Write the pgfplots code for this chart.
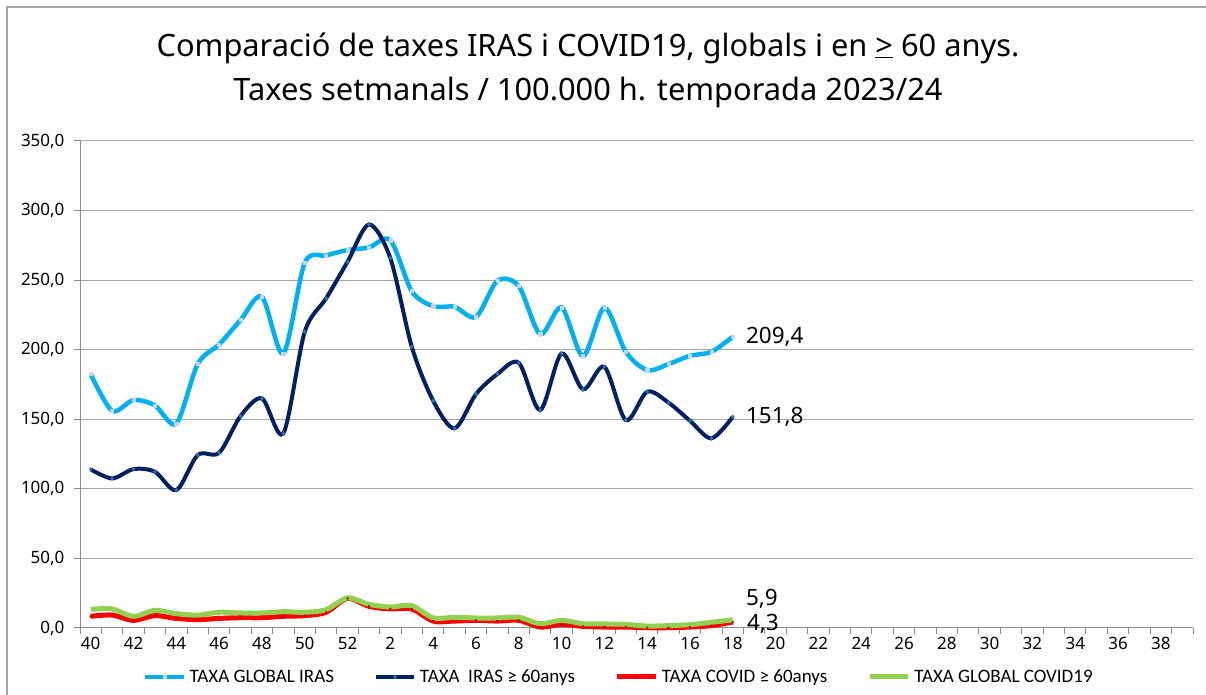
\documentclass[border=0pt]{standalone}
\usepackage{pgfplots}
\pgfplotsset{compat=1.18}
\usepackage{fontspec}
\setmainfont{Noto Sans}
\newfontfamily\calfont{Carlito}
\definecolor{lblue}{HTML}{00B0F0}
\definecolor{navy}{HTML}{002060}
\definecolor{cred}{HTML}{FF0000}
\definecolor{cgreen}{HTML}{92D050}
\definecolor{lmark}{HTML}{C5D5EE}
\definecolor{nmark}{HTML}{2E75B6}
\definecolor{gridc}{HTML}{A6A6A6}
\definecolor{axc}{HTML}{8C8C8C}
\begin{document}
\begin{tikzpicture}
\draw[color=gridc, line width=1.6pt] (7pt,0pt) -- (7pt,688pt) -- (1206pt,688pt);
\node[font=\fontsize{30.8}{36}\selectfont] at (588pt,647pt) {Comparació de taxes IRAS i COVID19, globals i en \underline{>} 60 anys.};
\node[font=\fontsize{30.8}{36}\selectfont] at (588pt,602pt) {Taxes setmanals / 100.000 h. temporada 2023/24};
\begin{axis}[
  at={(80pt,67pt)}, anchor=south west,
  scale only axis, width=1113pt, height=487pt,
  xmin=-0.5, xmax=51.5, ymin=0, ymax=350,
  axis x line*=bottom, axis y line*=left,
  axis line style={axc, line width=1pt},
  tick style={axc, line width=1pt},
  tick align=outside, major tick length=6pt,
  xtick={-0.5,0.5,...,51.5}, xticklabels={},
  extra x ticks={0,2,...,50},
  extra x tick labels={40,42,44,46,48,50,52,2,4,6,8,10,12,14,16,18,20,22,24,26,28,30,32,34,36,38},
  extra x tick style={major tick length=0pt, grid=none},
  ytick={0,50,...,350},
  ymajorgrids, grid style={gridc, line width=1pt},
  yticklabel style={/pgf/number format/.cd, fixed, fixed zerofill, precision=1, use comma, 1000 sep={}, /tikz/.cd, font=\fontsize{17}{20}\selectfont, xshift=-6pt},
  xticklabel style={font=\fontsize{17}{20}\selectfont, yshift=-6pt},
  /pgf/number format/assume math mode=true,
  legend columns=4,
  legend style={at={(0.0566,-0.1006)}, anchor=west, draw=none, fill=none, inner sep=0pt,
    font=\calfont\fontsize{19}{22}\selectfont,
    /tikz/every even column/.append style={column sep=38pt},
    /tikz/every odd column/.append style={column sep=2pt}},
  legend image code/.code={\draw[mark repeat=2,mark phase=2,#1] plot coordinates {(0pt,0pt) (19pt,0pt) (38pt,0pt)};},
  clip=false,
]
\addplot[lblue, line width=4.5pt, smooth, tension=0.5, mark=square*, mark size=1.6pt, mark options={lmark, line width=0.5pt}] coordinates {
(0,182.5) (1,156.1) (2,163.8) (3,160.0) (4,147.0) (5,189.7) (6,203.8) (7,221.3) (8,238.0) (9,197.3)
(10,262.4) (11,267.7) (12,271.6) (13,273.5) (14,278.7) (15,242.1) (16,231.3) (17,230.8) (18,223.6) (19,249.5)
(20,245.7) (21,211.2) (22,230.4) (23,195.4) (24,230.1) (25,198.5) (26,185.3) (27,189.7) (28,195.6) (29,198.5) (30,209.4)};
\addlegendentry{TAXA GLOBAL IRAS}
\addplot[navy, line width=4pt, smooth, tension=0.5, mark=diamond*, mark size=2pt, mark options={nmark, line width=0.3pt}] coordinates {
(0,114.0) (1,107.5) (2,114.2) (3,112.3) (4,99.1) (5,124.3) (6,125.9) (7,152.3) (8,165.0) (9,139.9)
(10,212.9) (11,236.9) (12,263.2) (13,290.0) (14,265.8) (15,202.1) (16,163.3) (17,143.5) (18,168.1) (19,182.5)
(20,190.6) (21,156.6) (22,197.3) (23,171.5) (24,187.7) (25,149.4) (26,169.8) (27,161.9) (28,148.9) (29,136.3) (30,151.8)};
\addlegendentry{TAXA\ \ IRAS ≥ 60anys}
\addplot[cred, line width=5pt, smooth, tension=0.5, mark=*, mark size=1pt, mark options={fill=red!60!black, draw=red!60!black, line width=0.2pt}] coordinates {
(0,8.4) (1,9.3) (2,5.5) (3,8.9) (4,6.9) (5,6.0) (6,6.9) (7,7.4) (8,7.4) (9,8.4)
(10,8.9) (11,11.3) (12,21.3) (13,15.6) (14,13.7) (15,13.7) (16,5.0) (17,5.0) (18,5.5) (19,5.0)
(20,5.5) (21,0.7) (22,2.6) (23,1.2) (24,0.7) (25,0.7) (26,0.2) (27,0.2) (28,0.7) (29,1.7) (30,4.3)};
\addlegendentry{TAXA COVID ≥ 60anys}
\addplot[cgreen, line width=5pt, smooth, tension=0.5] coordinates {
(0,13.4) (1,13.7) (2,8.4) (3,12.7) (4,10.3) (5,9.3) (6,11.3) (7,10.8) (8,10.8) (9,11.7)
(10,11.3) (11,13.2) (12,21.6) (13,17.0) (14,15.1) (15,16.0) (16,7.3) (17,7.7) (18,7.2) (19,7.2)
(20,7.7) (21,3.1) (22,5.5) (23,3.1) (24,2.9) (25,2.6) (26,1.4) (27,1.7) (28,2.4) (29,4.1) (30,5.9)};
\addlegendentry{TAXA GLOBAL COVID19}
\node[anchor=west, inner sep=0pt, font=\fontsize{22.5}{26}\selectfont] at (axis cs:30,209.4) [xshift=13pt] {209,4};
\node[anchor=west, inner sep=0pt, font=\fontsize{22.5}{26}\selectfont] at (axis cs:30,151.8) [xshift=13pt] {151,8};
\node[anchor=west, inner sep=0pt, font=\fontsize{22.5}{26}\selectfont] at (axis cs:30,5.9) [xshift=13pt, yshift=21pt] {5,9};
\node[anchor=west, inner sep=0pt, font=\fontsize{22.5}{26}\selectfont] at (axis cs:30,4.3) [xshift=14pt, yshift=-2pt] {4,3};
\end{axis}
\pgfresetboundingbox
\useasboundingbox (0pt,0pt) rectangle (1206pt,695pt);
\end{tikzpicture}
\end{document}
